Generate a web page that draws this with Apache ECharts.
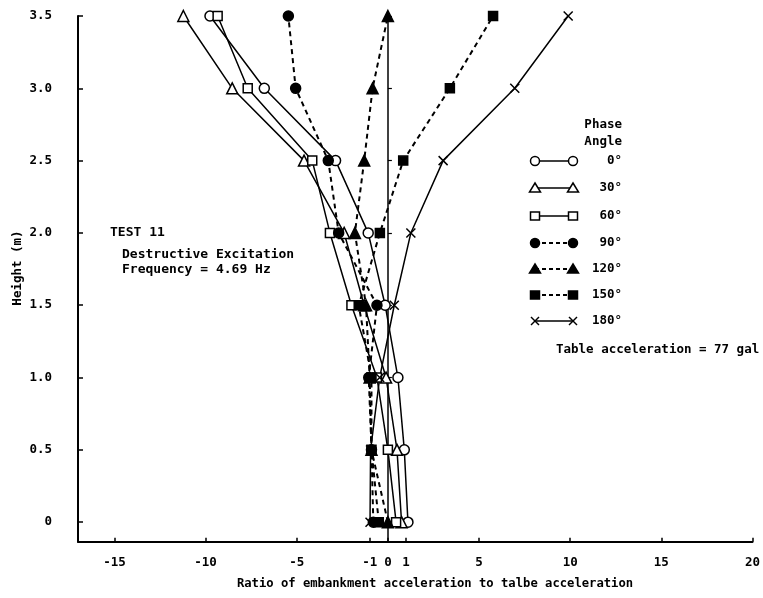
<!DOCTYPE html>
<html>
<head>
<meta charset="utf-8">
<script src="https://cdn.jsdelivr.net/npm/echarts@6/dist/echarts.min.js"></script>
<style>html,body{margin:0;padding:0;background:#fff;}#c{width:763px;height:598px;}</style>
</head>
<body>
<div id="c"></div>
<script>
// ---- data ----
const heights = [0, 0.5, 1.0, 1.5, 2.0, 2.5, 3.0, 3.5];
const phase0   = [1.1, 0.9, 0.55, -0.15, -1.08, -2.87, -6.78, -9.76];
const phase30  = [0.75, 0.5, -0.1, -1.3, -2.4, -4.6, -8.54, -11.22];
const phase60  = [0.45, 0.0, -0.6, -2.0, -3.18, -4.15, -7.69, -9.34];
const phase90  = [-0.8, -0.9, -1.05, -0.6, -2.7, -3.27, -5.06, -5.46];
const phase120 = [0.0, -0.9, -1.0, -1.2, -1.81, -1.30, -0.84, 0.0];
const phase150 = [-0.5, -0.9, -0.9, -1.6, -0.44, 0.84, 3.40, 5.77];
const phase180 = [-0.98, -0.95, -0.45, 0.35, 1.26, 3.03, 6.96, 9.89];
const legendLabels = ['0°', '30°', '60°', '90°', '120°', '150°', '180°'];
const xTicks = [-15, -10, -5, -1, 0, 1, 5, 10, 15, 20];
const yTicks = [0, 0.5, 1.0, 1.5, 2.0, 2.5, 3.0, 3.5];

const FONT = 'DejaVu Sans Mono';
const crossPath = 'path://M0,0L10,10M10,0L0,10';
const defs = [
  {name: legendLabels[0], vals: phase0,   sym: 'circle',   fill: '#fff', dash: false, size: 10},
  {name: legendLabels[1], vals: phase30,  sym: 'triangle', fill: '#fff', dash: false, size: 11},
  {name: legendLabels[2], vals: phase60,  sym: 'rect',     fill: '#fff', dash: false, size: 9},
  {name: legendLabels[3], vals: phase90,  sym: 'circle',   fill: '#000', dash: true,  size: 10},
  {name: legendLabels[4], vals: phase120, sym: 'triangle', fill: '#000', dash: true,  size: 11},
  {name: legendLabels[5], vals: phase150, sym: 'rect',     fill: '#000', dash: true,  size: 9},
  {name: legendLabels[6], vals: phase180, sym: crossPath,  fill: '#000', dash: false, size: 9}
];

const series = defs.map(d => ({
  type: 'line',
  name: d.name,
  data: heights.map((h, i) => [d.vals[i], h]),
  symbol: d.sym,
  symbolSize: d.size,
  showAllSymbol: true,
  lineStyle: {color: '#000', width: d.dash ? 2 : 1.5, type: d.dash ? [5, 4] : 'solid'},
  itemStyle: {color: d.fill, borderColor: '#000', borderWidth: 1.5},
  emphasis: {disabled: true},
  animation: false,
  z: 3
}));

// legend graphics
const legendRowsY = [161, 188, 216, 243, 269, 295, 321];
const gx1 = 535, gx2 = 573;
const graphics = [];
function symGraphic(kind, fill, cx, cy) {
  const st = {fill: fill, stroke: '#000', lineWidth: 1.5};
  if (kind === 'circle') return [{type: 'circle', shape: {cx: cx, cy: cy, r: 4.5}, style: st, z: 10}];
  if (kind === 'triangle') return [{type: 'polygon', shape: {points: [[cx, cy - 5], [cx + 5.5, cy + 4], [cx - 5.5, cy + 4]]}, style: st, z: 10}];
  if (kind === 'rect') return [{type: 'rect', shape: {x: cx - 4.5, y: cy - 4, width: 9, height: 8}, style: st, z: 10}];
  const ls = {stroke: '#000', lineWidth: 1.5};
  return [
    {type: 'line', shape: {x1: cx - 4, y1: cy - 4, x2: cx + 4, y2: cy + 4}, style: ls, z: 10},
    {type: 'line', shape: {x1: cx + 4, y1: cy - 4, x2: cx - 4, y2: cy + 4}, style: ls, z: 10}
  ];
}
defs.forEach((d, i) => {
  const y = legendRowsY[i];
  const kind = d.sym === crossPath ? 'cross' : d.sym;
  graphics.push({type: 'line', shape: {x1: gx1, y1: y, x2: gx2, y2: y}, style: {stroke: '#000', lineWidth: d.dash ? 2 : 1.5, lineDash: d.dash ? [4, 3] : null}, z: 9});
  symGraphic(kind, d.fill, gx1, y).forEach(g => graphics.push(g));
  symGraphic(kind, d.fill, gx2, y).forEach(g => graphics.push(g));
  graphics.push({type: 'text', x: 622, y: y, style: {text: d.name, font: 'bold 12.5px "' + FONT + '"', fill: '#000', align: 'right', verticalAlign: 'middle'}, z: 10});
});
const txt = (t, x, y, align, size) => ({type: 'text', x: x, y: y, style: {text: t, font: 'bold ' + (size || 12) + 'px "' + FONT + '"', fill: '#000', align: align || 'left', verticalAlign: 'middle'}, z: 10});
graphics.push(txt('Phase', 622, 125, 'right', 12.5));
graphics.push(txt('Angle', 622, 142, 'right', 12.5));
graphics.push(txt('Table acceleration = 77 gal', 556, 350, 'left', 12.5));
graphics.push(txt('TEST 11', 110, 233, 'left', 13));
graphics.push(txt('Destructive Excitation', 122, 255, 'left', 13));
graphics.push(txt('Frequency = 4.69 Hz', 122, 270, 'left', 13));
graphics.push(txt('Ratio of embankment acceleration to talbe acceleration', 435, 584, 'center', 12.2));
graphics.push({type: 'text', x: 18, y: 268, rotation: Math.PI / 2, style: {text: 'Height (m)', font: 'bold 12.5px "' + FONT + '"', fill: '#000', align: 'center', verticalAlign: 'middle'}, z: 10});

const axisFont = {fontFamily: FONT, fontSize: 12.5, fontWeight: 'bold', color: '#000'};
const option = {
  backgroundColor: '#fff',
  animation: false,
  grid: {left: 78, right: 10.2, top: 16, bottom: 56.3, containLabel: false},
  xAxis: {
    type: 'value', min: -17, max: 20,
    axisLine: {onZero: false, lineStyle: {color: '#000', width: 2}},
    axisTick: {show: true, inside: true, length: 4, customValues: xTicks, lineStyle: {color: '#000', width: 1.5}},
    axisLabel: Object.assign({customValues: xTicks, margin: 15, formatter: v => String(v)}, axisFont),
    splitLine: {show: false}
  },
  yAxis: [{
    type: 'value', min: -0.135, max: 3.5,
    axisLine: {onZero: false, lineStyle: {color: '#000', width: 2}},
    axisTick: {show: true, inside: true, length: 5, customValues: yTicks, lineStyle: {color: '#000', width: 1.5}},
    axisLabel: Object.assign({customValues: yTicks, margin: 26, formatter: v => v === 0 ? '0' : v.toFixed(1)}, axisFont),
    splitLine: {show: false}
  }, {
    type: 'value', min: -0.135, max: 3.5,
    position: 'left',
    axisLine: {onZero: true, show: true, lineStyle: {color: '#000', width: 1.5}},
    axisTick: {show: true, inside: true, length: 4, customValues: yTicks, lineStyle: {color: '#000', width: 1.2}},
    axisLabel: {show: false},
    splitLine: {show: false}
  }],
  series: series,
  graphic: graphics
};
const chart = echarts.init(document.getElementById('c'), null, {renderer: 'canvas'});
chart.setOption(option);
</script>
</body>
</html>
